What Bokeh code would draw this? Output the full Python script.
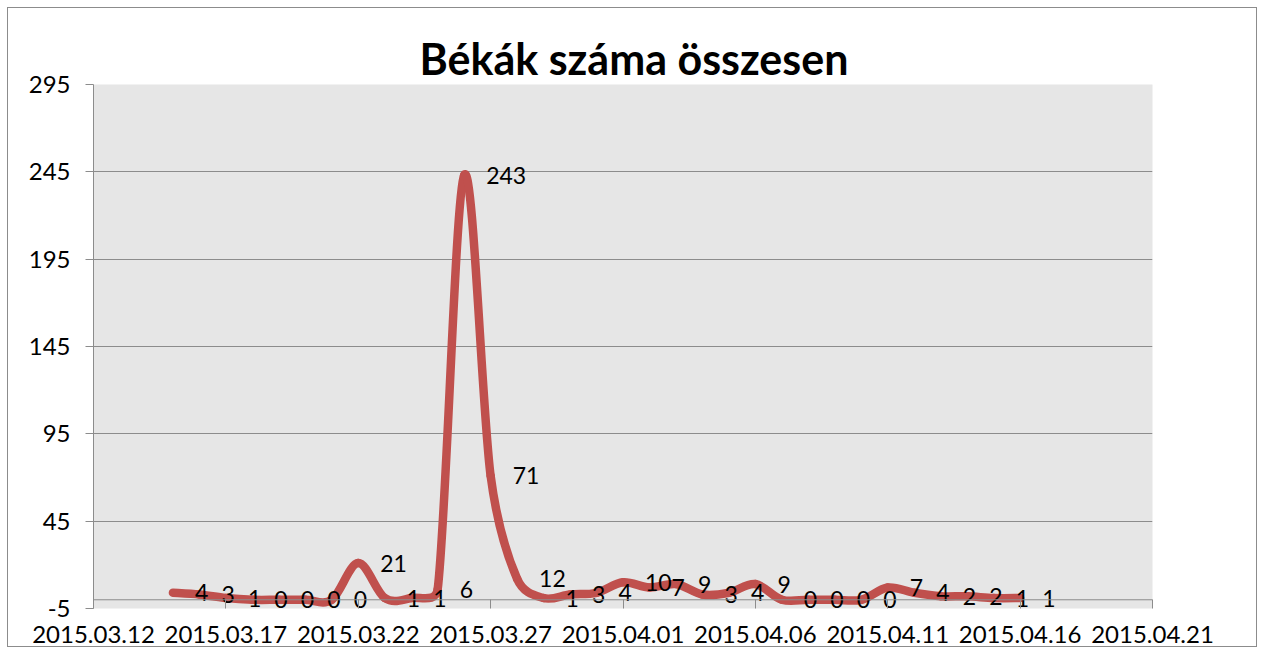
import numpy as np
import pandas as pd
from bokeh.plotting import figure
from bokeh.models import Range1d, FixedTicker, Span, ColumnDataSource, DatetimeTickFormatter
from bokeh.core.properties import value
from bokeh.embed import file_html
from bokeh.resources import INLINE

# ---- data ----
title_text = "Békák száma összesen"
dates = pd.date_range("2015-03-15", "2015-04-16", freq="D")
counts = [4, 3, 1, 0, 0, 0, 0, 21, 1, 1, 6, 243, 71, 12, 1, 3, 4,
          10, 7, 9, 3, 4, 9, 0, 0, 0, 0, 7, 4, 2, 2, 1, 1]
x_tick_dates = ["2015-03-12", "2015-03-17", "2015-03-22", "2015-03-27", "2015-04-01",
                "2015-04-06", "2015-04-11", "2015-04-16", "2015-04-21"]
y_ticks = [-5, 45, 95, 145, 195, 245, 295]
y_tick_labels = ["-5", "45", "95", "145", "195", "245", "295"]

FONT = "Lato"
RED = "#c0504d"
GRID = "#8c8c8c"


def to_ms(d):
    return pd.to_datetime(d).values.astype("datetime64[ms]").astype("int64").astype(float)


x_ms = to_ms(dates)
tick_ms = to_ms(x_tick_dates)
DAY = 86400000.0

p = figure(width=1250, height=640, output_backend="svg", toolbar_location=None,
           x_axis_type="datetime",
           x_range=Range1d(tick_ms[0], tick_ms[-1]),
           y_range=Range1d(y_ticks[0], y_ticks[-1]),
           min_border_left=85, min_border_right=106, min_border_top=76, min_border_bottom=40)
p.styles = {"border": "1px solid #8c8c8c", "margin-left": "7px", "margin-top": "7px"}

p.background_fill_color = "#e6e6e6"
p.border_fill_color = "white"
p.outline_line_color = None

# title
p.title.text = title_text
p.title.text_font = FONT
p.title.text_font_size = "43px"
p.title.text_font_style = "bold"
p.title.text_color = "black"
p.title.align = "left"
p.title.offset = 326
p.title.standoff = 2

# y axis
p.yaxis.ticker = FixedTicker(ticks=y_ticks)
p.yaxis.major_label_overrides = dict(zip(y_ticks, y_tick_labels))
p.yaxis.axis_line_color = GRID
p.yaxis.major_tick_line_color = GRID
p.yaxis.major_tick_out = 8
p.yaxis.major_tick_in = 0
p.yaxis.minor_tick_line_color = None
p.yaxis.major_label_standoff = 15
p.yaxis.major_label_text_font = FONT
p.yaxis.major_label_text_font_size = "24px"
p.yaxis.major_label_text_color = "black"

p.ygrid.ticker = FixedTicker(ticks=y_ticks)
p.ygrid.grid_line_color = GRID
p.ygrid.grid_line_width = 1
p.xgrid.grid_line_color = None

# x axis
p.xaxis.ticker = FixedTicker(ticks=list(tick_ms))
p.xaxis.formatter = DatetimeTickFormatter(days="%Y.%m.%d", months="%Y.%m.%d", years="%Y.%m.%d")
p.xaxis.axis_line_color = None
p.xaxis.major_tick_line_color = GRID
p.xaxis.major_tick_in = 9
p.xaxis.major_tick_out = 0
p.xaxis.minor_tick_line_color = None
p.xaxis.major_label_standoff = 17
p.xaxis.major_label_text_font = FONT
p.xaxis.major_label_text_font_size = "24px"
p.xaxis.major_label_text_color = "black"

# horizontal axis line crossing at 0
p.add_layout(Span(location=0, dimension="width", line_color=GRID, line_width=1))

# smoothed line (Excel-like bezier segments computed from the data)
SX = 1059.0 / 40.0   # px per day
SY = 524.0 / 300.0   # px per unit
px = (x_ms - x_ms[0]) / DAY * SX
py = np.array(counts, dtype=float) * SY
n = len(counts)
seg = dict(x0=[], y0=[], x1=[], y1=[], cx0=[], cy0=[], cx1=[], cy1=[])
for i in range(n - 1):
    i0 = i - 1 if i > 0 else i
    i3 = i + 2 if i + 2 < n else i + 1
    P0 = np.array([px[i0], py[i0]])
    P1 = np.array([px[i], py[i]])
    P2 = np.array([px[i + 1], py[i + 1]])
    P3 = np.array([px[i3], py[i3]])
    d02 = np.hypot(*(P2 - P0))
    d13 = np.hypot(*(P3 - P1))
    d12 = np.hypot(*(P2 - P1))
    f0 = f1 = 1.0 / 6.0
    if d02 > 0 and d02 / 6 >= d12 / 2:
        f0 = d12 / 2 / d02
    if d13 > 0 and d13 / 6 >= d12 / 2:
        f1 = d12 / 2 / d13
    C1 = P1 + (P2 - P0) * f0
    C2 = P2 - (P3 - P1) * f1
    seg["x0"].append(x_ms[i]); seg["y0"].append(counts[i])
    seg["x1"].append(x_ms[i + 1]); seg["y1"].append(counts[i + 1])
    seg["cx0"].append(x_ms[0] + C1[0] / SX * DAY); seg["cy0"].append(C1[1] / SY)
    seg["cx1"].append(x_ms[0] + C2[0] / SX * DAY); seg["cy1"].append(C2[1] / SY)

p.bezier(x0="x0", y0="y0", x1="x1", y1="y1", cx0="cx0", cy0="cy0", cx1="cx1", cy1="cy1",
         source=ColumnDataSource(seg), line_color=RED, line_width=8.5, line_cap="round")

# data labels
lab = ColumnDataSource(dict(x=x_ms, y=counts, t=[str(c) for c in counts]))
p.text(x="x", y="y", text="t", source=lab, x_offset=22, text_align="left",
       text_baseline="middle", text_font=value(FONT), text_font_size="23px",
       text_color="black")

open("out.html", "w").write(file_html(p, INLINE))
